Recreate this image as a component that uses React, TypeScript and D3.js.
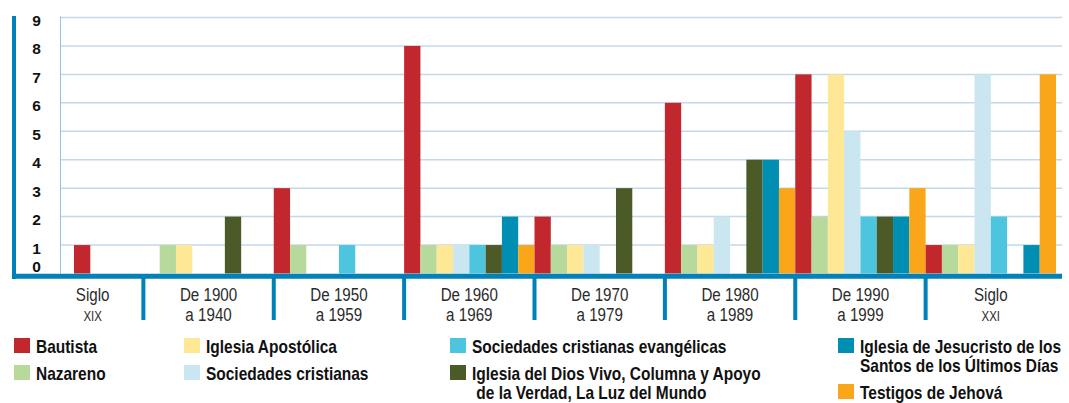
import React from "react";
import * as d3 from "d3";

// categories (two-line labels)
const categoryTop = ["Siglo", "De 1900", "De 1950", "De 1960", "De 1970", "De 1980", "De 1990", "Siglo"];
const categoryBottom = ["XIX", "a 1940", "a 1959", "a 1969", "a 1979", "a 1989", "a 1999", "XXI"];

const yTicks = [0, 1, 2, 3, 4, 5, 6, 7, 8, 9];

// one array per church, in category order
const bautista = [1, 0, 3, 8, 2, 6, 7, 1];
const nazareno = [0, 1, 1, 1, 1, 1, 2, 1];
const apostolica = [0, 1, 0, 1, 1, 1, 7, 1];
const sociedades = [0, 0, 0, 1, 1, 2, 5, 7];
const evangelicas = [0, 0, 1, 1, 0, 0, 2, 2];
const diosVivo = [0, 2, 0, 1, 3, 4, 2, 0];
const santos = [0, 0, 0, 2, 0, 4, 2, 1];
const testigos = [0, 0, 0, 1, 0, 3, 3, 7];

const seriesKeys = ["bautista", "nazareno", "apostolica", "sociedades", "evangelicas", "diosVivo", "santos", "testigos"];
const seriesValues = [bautista, nazareno, apostolica, sociedades, evangelicas, diosVivo, santos, testigos];
const seriesLabels = [
  "Bautista",
  "Nazareno",
  "Iglesia Apostólica",
  "Sociedades cristianas",
  "Sociedades cristianas evangélicas",
  "Iglesia del Dios Vivo, Columna y Apoyo\n de la Verdad, La Luz del Mundo",
  "Iglesia de Jesucristo de los\nSantos de los Últimos Días",
  "Testigos de Jehová",
];
const seriesColors = ["#C1272D", "#B7D99B", "#FEE795", "#C9E6F1", "#4DC5DF", "#4C5A28", "#008FB3", "#F9A61B"];

// legend: which column each series sits in
const legendColumn = [0, 0, 1, 1, 2, 2, 3, 3];

const W = 1069;
const H = 403;
const axisBlue = "#0081B8";
const sans = "'Liberation Sans', Arial, sans-serif";

// condensed look: squeeze a normal face horizontally
const Squeezed = ({ x, y, sx, children, ...rest }: any) => (
  <text transform={`translate(${x},${y}) scale(${sx},1)`} fontFamily={sans} style={{ whiteSpace: "pre" }} {...rest}>
    {children}
  </text>
);

const App = () => {
  const plotLeft = 60;
  const plotRight = 1062;
  const labelLeft = 42;

  const y = d3.scaleLinear().domain([0, 9]).range([273.5, 17.5]);
  const x0 = d3.scaleBand<number>().domain(d3.range(categoryTop.length)).range([13, 1056]);
  const x1 = d3.scaleBand<string>().domain(seriesKeys).range([0, x0.bandwidth()]);
  const bw = x0.bandwidth();

  // bars of the first group must not run over the y labels
  const groupShift = categoryTop.map((_, i) => {
    const first = seriesKeys.findIndex((_k, s) => seriesValues[s][i] > 0);
    const fx = x0(i)! + x1(seriesKeys[first])!;
    return Math.max(0, plotLeft + 14 - fx);
  });

  const legendX = [14, 184, 450, 838];
  const legendItems: { s: number; x: number; y: number; lines: string[] }[] = [];
  legendX.forEach((lx, c) => {
    let base = 353;
    seriesKeys.forEach((_k, s) => {
      if (legendColumn[s] !== c) return;
      const lines = seriesLabels[s].split("\n");
      legendItems.push({ s, x: lx, y: base, lines });
      base += 27 + (lines.length - 1) * 19;
    });
  });

  return (
    <svg width={W} height={H} style={{ position: "absolute", left: 0, top: 0, background: "#fff" }}>
      {/* grid */}
      {yTicks.filter(t => t > 0).map(t => (
        <line key={t} x1={plotLeft} x2={plotRight} y1={y(t)} y2={y(t)} stroke="#C4D8EB" strokeWidth={1.5} />
      ))}
      <line x1={plotLeft + 0.5} x2={plotLeft + 0.5} y1={y(9) - 1} y2={y(0)} stroke="#8EC6E6" strokeWidth={1} />

      {/* bars */}
      {categoryTop.map((_, i) => (
        <g key={i} transform={`translate(${x0(i)! + groupShift[i]},0)`}>
          {seriesKeys.map((k, s) =>
            seriesValues[s][i] > 0 ? (
              <rect
                key={k}
                x={x1(k)}
                y={y(seriesValues[s][i])}
                width={x1.bandwidth()}
                height={y(0) - y(seriesValues[s][i])}
                fill={seriesColors[s]}
              />
            ) : null
          )}
        </g>
      ))}

      {/* axes */}
      <line x1={14} x2={14} y1={16} y2={279} stroke={axisBlue} strokeWidth={4} />
      <line x1={12} x2={plotRight} y1={276.3} y2={276.3} stroke={axisBlue} strokeWidth={5} />
      {categoryTop.slice(1).map((_, j) => (
        <line key={j} x1={x0(j + 1)!} x2={x0(j + 1)!} y1={274} y2={320} stroke={axisBlue} strokeWidth={4} />
      ))}

      {yTicks.map(t => (
        <text
          key={t}
          x={36.5}
          y={Math.min(y(t) + 3, y(0) - 7)}
          textAnchor="middle"
          dominantBaseline="central"
          fontFamily={sans}
          fontWeight="bold"
          fontSize={15.5}
          fill="#111"
        >
          {t}
        </text>
      ))}

      {categoryTop.map((top, i) => {
        const cx = (Math.max(x0(i)!, labelLeft) + x0(i)! + bw) / 2;
        const small = /^[IVXL]+$/.test(categoryBottom[i]);
        return (
          <g key={i} fill="#2b2b2b" textAnchor="middle">
            <Squeezed x={cx} y={300.5} sx={0.82} fontSize={18.5}>{top}</Squeezed>
            <Squeezed x={cx} y={320.5} sx={0.82} fontSize={small ? 14 : 18.5}>{categoryBottom[i]}</Squeezed>
          </g>
        );
      })}

      {/* legend */}
      {legendItems.map(it => (
        <g key={it.s}>
          <rect x={it.x} y={it.y - 15} width={16} height={15} fill={seriesColors[it.s]} />
          {it.lines.map((ln, j) => (
            <Squeezed key={j} x={it.x + 22} y={it.y + j * 19} sx={0.86} fontWeight="bold" fontSize={18} fill="#111">
              {ln}
            </Squeezed>
          ))}
        </g>
      ))}
    </svg>
  );
};

export default App;
